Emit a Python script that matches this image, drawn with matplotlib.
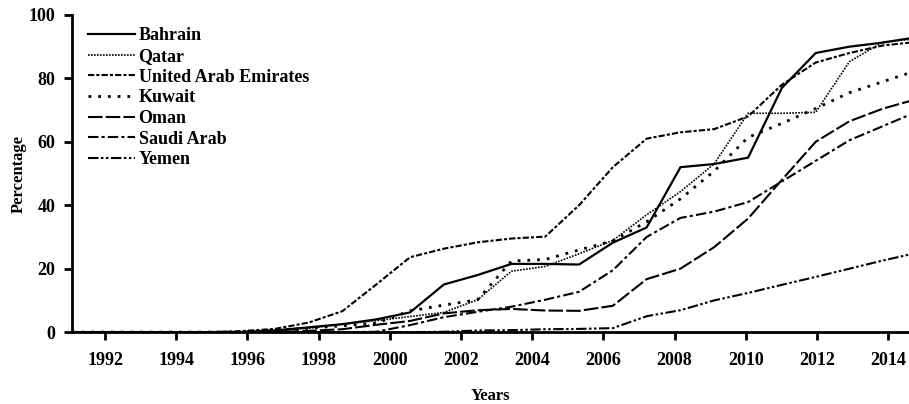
import numpy as np
import matplotlib
matplotlib.use('Agg')
import matplotlib.pyplot as plt

plt.rcParams['font.family'] = ['Liberation Serif', 'DejaVu Serif']
plt.rcParams['font.weight'] = 'bold'

# Yearly internet users (% of population), 1990..2015
years = list(range(1990, 2016))
bahrain = [0, 0, 0, 0, 0, 0, 0.5, 1.5, 2.5, 4.0, 6.2, 15.0, 18.0, 21.5, 21.5, 21.3,
           28.2, 33.0, 52.0, 53.0, 55.0, 77.0, 88.0, 90.0, 91.3, 93.0]
qatar = [0, 0, 0, 0, 0, 0, 0.5, 1.2, 2.5, 3.6, 4.9, 6.2, 10.2, 19.2, 20.7, 24.7,
         28.9, 37.0, 44.3, 53.1, 69.0, 69.0, 69.3, 85.3, 91.5, 92.5]
uae = [0, 0, 0, 0, 0, 0.3, 1.0, 3.0, 6.6, 15.0, 23.6, 26.3, 28.3, 29.5, 30.1, 40.0,
       52.0, 61.0, 63.0, 64.0, 68.0, 78.0, 85.0, 88.0, 90.4, 91.5]
kuwait = [0, 0, 0, 0, 0, 0, 0.6, 1.2, 2.0, 2.8, 6.7, 8.5, 10.2, 22.4, 22.9, 25.9,
          28.8, 34.8, 42.0, 50.8, 61.4, 65.8, 70.5, 75.5, 79.0, 82.5]
oman = [0, 0, 0, 0, 0, 0, 0, 0.4, 0.9, 2.3, 3.5, 5.9, 6.9, 7.3, 6.8, 6.7,
        8.3, 16.7, 20.0, 26.8, 35.8, 48.0, 60.0, 66.5, 70.5, 73.5]
saudi = [0, 0, 0, 0, 0, 0, 0, 0, 0, 0.1, 2.2, 4.7, 6.4, 8.0, 10.2, 12.7,
         19.5, 30.0, 36.0, 38.0, 41.0, 47.5, 54.0, 60.5, 65.0, 69.5]
yemen = [0, 0, 0, 0, 0, 0, 0, 0, 0, 0, 0, 0.1, 0.5, 0.6, 0.9, 1.0,
         1.25, 5.0, 6.9, 10.0, 12.35, 14.9, 17.4, 20.0, 22.6, 25.0]

tick_labels = ['1992', '1994', '1996', '1998', '2000', '2002',
               '2004', '2006', '2008', '2010', '2012', '2014']

series = [
    ('Bahrain', bahrain, '-', 1.6),
    ('Qatar', qatar, (0, (1, 0.8)), 1.2),
    ('United Arab Emirates', uae, (0, (3, 1, 1.5, 1)), 1.5),
    ('Kuwait', kuwait, (0, (1, 2.5)), 2.0),
    ('Oman', oman, (0, (7, 1.5)), 1.5),
    ('Saudi Arab', saudi, (0, (5, 1.5, 1.5, 1.5)), 1.5),
    ('Yemen', yemen, (0, (5, 1.2, 1.2, 1.2, 1.2, 1.2)), 1.5),
]

fig = plt.figure(figsize=(9.09, 4.04), dpi=100)
ax = fig.add_axes([0.0792, 0.178, 0.9208, 0.785])

for name, vals, ls, lw in series:
    ax.plot(years, vals, color='black', linestyle=ls, linewidth=lw, label=name)

ax.set_xlim(1990, 2014.76)
ax.set_ylim(0, 100)
ax.set_xticks(np.linspace(1990.98, 2014.14, len(tick_labels)))
ax.set_xticklabels(tick_labels)
ax.set_yticks([0, 20, 40, 60, 80, 100])

for side in ['top', 'right']:
    ax.spines[side].set_visible(False)
for side in ['left', 'bottom']:
    ax.spines[side].set_linewidth(2)
ax.tick_params(axis='both', direction='out', length=6, width=2,
               labelsize=13, pad=6)
ax.tick_params(axis='x', pad=8)

ax.set_xlabel('Years', fontsize=12, fontweight='bold', labelpad=14)
ax.set_ylabel('Percentage', fontsize=12, fontweight='bold', labelpad=1)

ax.legend(loc='upper left', bbox_to_anchor=(0.0968, 0.932),
          bbox_transform=fig.transFigure, frameon=False, fontsize=13,
          handlelength=2.6, handletextpad=0.2, labelspacing=0.2,
          borderpad=0, borderaxespad=0)

fig.savefig('out.png', dpi=100)
